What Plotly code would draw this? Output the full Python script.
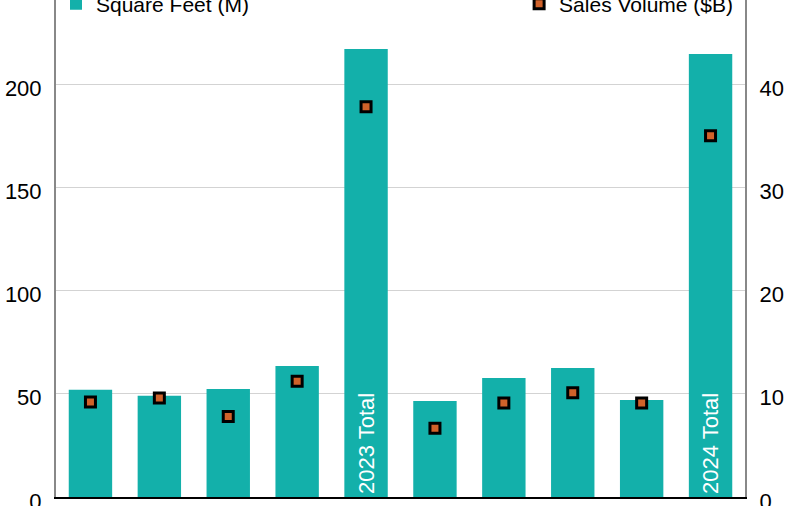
import plotly.graph_objects as go

categories = ["Q1 2023", "Q2 2023", "Q3 2023", "Q4 2023", "2023 Total",
              "Q1 2024", "Q2 2024", "Q3 2024", "Q4 2024", "2024 Total"]
square_feet = [52, 49, 52.3, 63.4, 217, 46.5, 57.6, 62.5, 47, 214.5]
sales_volume = [9.2, 9.6, 7.8, 11.2, 37.8, 6.65, 9.1, 10.1, 9.1, 35.0]
bar_labels = ["", "", "", "", "2023 Total", "", "", "", "", "2024 Total"]
left_ticks = [0, 50, 100, 150, 200]
right_ticks = [0, 10, 20, 30, 40]

TEAL = "#13b0aa"
ORANGE = "#d0622a"
FONT = "Liberation Sans, Arial, Helvetica, sans-serif"

fig = go.Figure()
fig.add_trace(go.Bar(
    x=categories, y=square_feet, name="Square Feet (M)",
    marker=dict(color=TEAL, line=dict(width=0)),
    text=bar_labels, textposition="inside", textangle=-90,
    insidetextanchor="start",
    textfont=dict(color="white", size=22, family=FONT),
    legend="legend", yaxis="y",
))
fig.add_trace(go.Scatter(
    x=categories, y=sales_volume, name="Sales Volume ($B)", mode="markers",
    marker=dict(symbol="square", size=10, color=ORANGE,
                line=dict(color="black", width=3)),
    legend="legend2", yaxis="y2",
))

fig.update_layout(
    width=800, height=506,
    margin=dict(l=56, r=55, t=0, b=9, autoexpand=False),
    paper_bgcolor="white", plot_bgcolor="white",
    font=dict(family=FONT, size=22, color="black"),
    bargap=0.37,
    xaxis=dict(range=[-0.5, 9.5], showgrid=False, showline=True,
               linecolor="black", linewidth=1.5,
               ticks="", showticklabels=False),
    yaxis=dict(range=[0, 240.7], tickvals=left_ticks, showgrid=True,
               gridcolor="#d3d3d3", gridwidth=1, zeroline=False,
               showline=True, linecolor="#888888", linewidth=2,
               ticks="", ticklabelstandoff=8, ticklabelshift=4,
               ticklabeloverflow="allow"),
    yaxis2=dict(range=[0, 48.14], tickvals=right_ticks, overlaying="y",
                side="right", showgrid=False, zeroline=False,
                showline=True, linecolor="#888888", linewidth=2,
                ticks="", ticklabelstandoff=8, ticklabelshift=4,
                ticklabeloverflow="allow"),
    legend=dict(x=0.0, y=0.992, xanchor="left", yanchor="middle",
                xref="paper", yref="paper", bgcolor="rgba(0,0,0,0)",
                font=dict(size=21)),
    legend2=dict(x=0.99, y=0.992, xanchor="right", yanchor="middle",
                 xref="paper", yref="paper", bgcolor="rgba(0,0,0,0)",
                 font=dict(size=21)),
    showlegend=True,
)

fig.write_html("out.html")
